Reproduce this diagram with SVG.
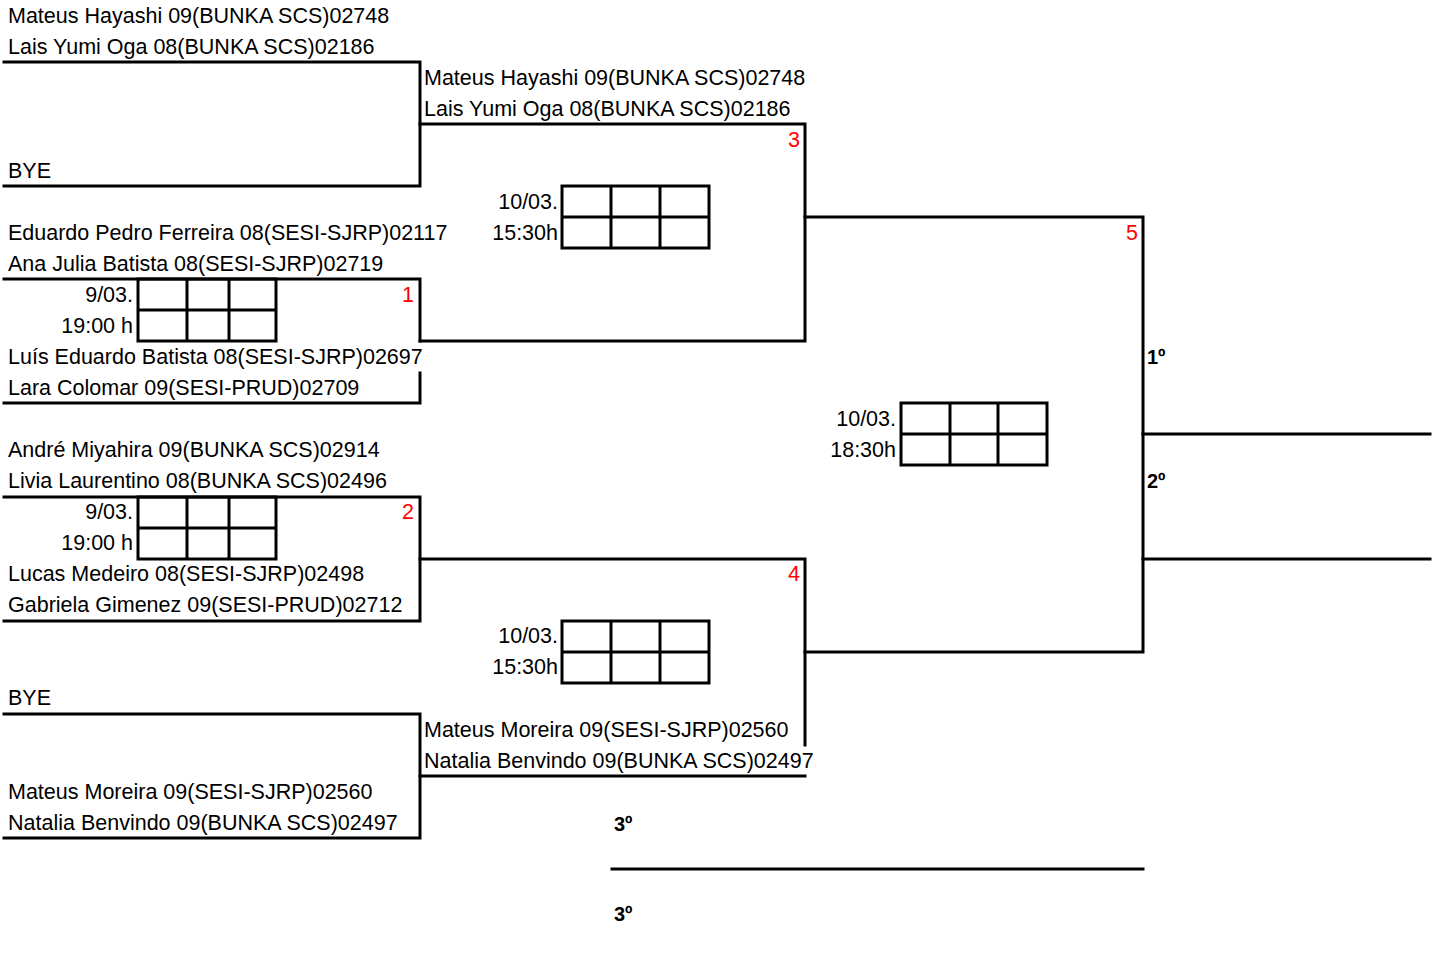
<svg xmlns="http://www.w3.org/2000/svg" width="1439" height="956" viewBox="0 0 1439 956">
<style>
.t{font-family:"Liberation Sans",Arial,sans-serif;font-size:21.5px;fill:#000}
.r{text-anchor:end}
.red{font-family:"Liberation Sans",Arial,sans-serif;font-size:21.5px;fill:#ff0000;text-anchor:end}
.b{font-family:"Liberation Sans",Arial,sans-serif;font-size:20px;font-weight:bold;fill:#000}
.ln{fill:none;stroke:#000;stroke-width:3;stroke-linecap:square}
.box{fill:none;stroke:#000;stroke-width:3}
</style>
<rect width="1439" height="956" fill="#fff"/>
<g id="connectors">
<path class="ln" d="M4,62H420V186H4"/>
<path class="ln" d="M420,124H805V341H420"/>
<path class="ln" d="M4,279H420V341"/>
<path class="ln" d="M420,373V403H4"/>
<path class="ln" d="M805,217H1143V652H805"/>
<path class="ln" d="M4,497H420V621H4"/>
<path class="ln" d="M420,559H805V745"/>
<path class="ln" d="M4,714H420V838H4"/>
<path class="ln" d="M420,776H805"/>
<path class="ln" d="M1143,434H1430"/>
<path class="ln" d="M1143,559H1430"/>
<path class="ln" d="M612,869H1143"/>
</g>
<g id="entry-1">
<text class="t" x="8" y="23">Mateus Hayashi 09(BUNKA SCS)02748</text>
<text class="t" x="8" y="54">Lais Yumi Oga 08(BUNKA SCS)02186</text>
</g>
<g id="entry-bye-1"><text class="t" x="8" y="178">BYE</text></g>
<g id="entry-2">
<text class="t" x="8" y="240">Eduardo Pedro Ferreira 08(SESI-SJRP)02117</text>
<text class="t" x="8" y="271">Ana Julia Batista 08(SESI-SJRP)02719</text>
</g>
<g id="entry-3">
<text class="t" x="8" y="364">Luís Eduardo Batista 08(SESI-SJRP)02697</text>
<text class="t" x="8" y="395">Lara Colomar 09(SESI-PRUD)02709</text>
</g>
<g id="entry-4">
<text class="t" x="8" y="457">André Miyahira 09(BUNKA SCS)02914</text>
<text class="t" x="8" y="488">Livia Laurentino 08(BUNKA SCS)02496</text>
</g>
<g id="entry-5">
<text class="t" x="8" y="581">Lucas Medeiro 08(SESI-SJRP)02498</text>
<text class="t" x="8" y="612">Gabriela Gimenez 09(SESI-PRUD)02712</text>
</g>
<g id="entry-bye-2"><text class="t" x="8" y="705">BYE</text></g>
<g id="entry-6">
<text class="t" x="8" y="799">Mateus Moreira 09(SESI-SJRP)02560</text>
<text class="t" x="8" y="830">Natalia Benvindo 09(BUNKA SCS)02497</text>
</g>
<g id="match-1">
<text class="t r" x="133" y="302">9/03.</text>
<text class="t r" x="133" y="333">19:00 h</text>
<rect class="box" x="138" y="279" width="138" height="62"/>
<path class="box" d="M138,310H276M187,279V341M229,279V341"/>
<text class="red" x="414" y="302">1</text>
</g>
<g id="match-2">
<text class="t r" x="133" y="519">9/03.</text>
<text class="t r" x="133" y="550">19:00 h</text>
<rect class="box" x="138" y="497" width="138" height="62"/>
<path class="box" d="M138,528H276M187,497V559M229,497V559"/>
<text class="red" x="414" y="519">2</text>
</g>
<g id="match-3">
<text class="t" x="424" y="85">Mateus Hayashi 09(BUNKA SCS)02748</text>
<text class="t" x="424" y="116">Lais Yumi Oga 08(BUNKA SCS)02186</text>
<text class="red" x="800" y="147">3</text>
<text class="t r" x="558" y="209">10/03.</text>
<text class="t r" x="558" y="240">15:30h</text>
<rect class="box" x="562" y="186" width="147" height="62"/>
<path class="box" d="M562,217H709M611,186V248M660,186V248"/>
</g>
<g id="match-4">
<text class="red" x="800" y="581">4</text>
<text class="t r" x="558" y="643">10/03.</text>
<text class="t r" x="558" y="674">15:30h</text>
<rect class="box" x="562" y="621" width="147" height="62"/>
<path class="box" d="M562,652H709M611,621V683M660,621V683"/>
<text class="t" x="424" y="737">Mateus Moreira 09(SESI-SJRP)02560</text>
<text class="t" x="424" y="768">Natalia Benvindo 09(BUNKA SCS)02497</text>
</g>
<g id="match-5">
<text class="red" x="1138" y="240">5</text>
<text class="t r" x="896" y="426">10/03.</text>
<text class="t r" x="896" y="457">18:30h</text>
<rect class="box" x="901" y="403" width="146" height="62"/>
<path class="box" d="M901,434H1047M950,403V465M998,403V465"/>
</g>
<g id="place-1"><text class="b" x="1147" y="364">1º</text></g>
<g id="place-2"><text class="b" x="1147" y="488">2º</text></g>
<g id="place-3a"><text class="b" x="614" y="831">3º</text></g>
<g id="place-3b"><text class="b" x="614" y="921">3º</text></g>
</svg>
